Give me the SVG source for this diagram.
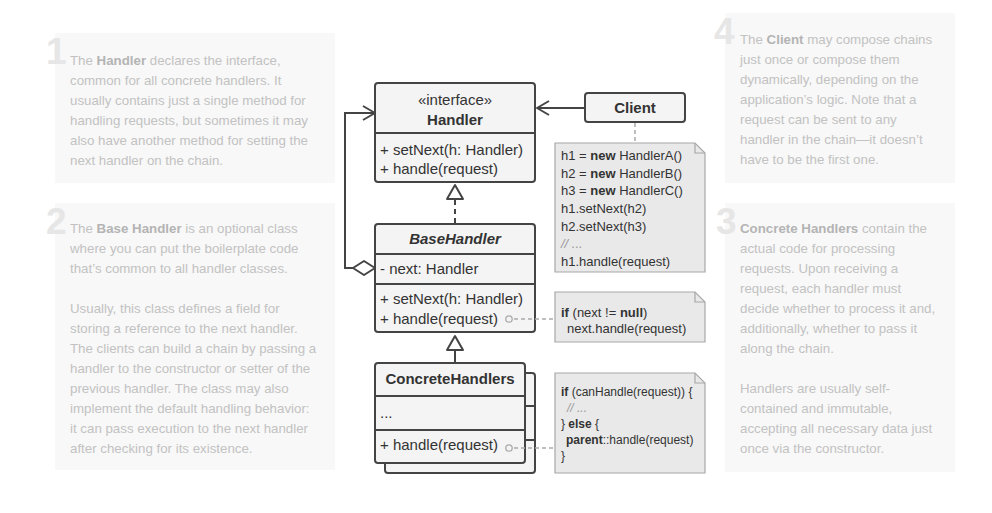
<svg xmlns="http://www.w3.org/2000/svg" width="992" height="513" viewBox="0 0 992 513">
  <style>
    .card { fill: #f8f8f8; }
    .num { font-family: "Liberation Sans", Arial, sans-serif; font-weight: bold; font-size: 37px; fill: #e6e6e6; }
    .desc { font-family: "Liberation Sans", Arial, sans-serif; font-size: 13.3px; fill: #c2c2c2; }
    .desc .b { font-weight: bold; fill: #b4b4b4; }
    .box { fill: #f4f4f4; stroke: #444; stroke-width: 2; }
    .sep { stroke: #444; stroke-width: 2; }
    .uml { font-family: "Liberation Sans", Arial, sans-serif; font-size: 15px; fill: #333; }
    .title { font-weight: bold; text-anchor: middle; }
    .note { fill: #e9e9e9; stroke: #a8a8a8; stroke-width: 1.2; }
    .code { font-family: "Liberation Sans", Arial, sans-serif; font-size: 13px; fill: #333; }
    .code.small { font-size: 12px; }
    .code .k { font-weight: bold; }
    .code .c { fill: #999; font-style: italic; }
    .line { fill: none; stroke: #444; stroke-width: 2; }
    .dash { fill: none; stroke: #aaa; stroke-width: 1.5; stroke-dasharray: 4 3; }
  </style>

  <!-- explanation cards -->
  <g id="card-1">
    <rect class="card" x="55" y="33" width="280" height="150"/>
    <text class="num" x="46" y="64">1</text>
    <text class="desc">
      <tspan x="70" y="65">The <tspan class="b">Handler</tspan> declares the interface,</tspan>
      <tspan x="70" y="85">common for all concrete handlers. It</tspan>
      <tspan x="70" y="105">usually contains just a single method for</tspan>
      <tspan x="70" y="125">handling requests, but sometimes it may</tspan>
      <tspan x="70" y="145">also have another method for setting the</tspan>
      <tspan x="70" y="165">next handler on the chain.</tspan>
    </text>
  </g>
  <g id="card-2">
    <rect class="card" x="55" y="203" width="280" height="267"/>
    <text class="num" x="46" y="234">2</text>
    <text class="desc">
      <tspan x="70" y="233">The <tspan class="b">Base Handler</tspan> is an optional class</tspan>
      <tspan x="70" y="253">where you can put the boilerplate code</tspan>
      <tspan x="70" y="273">that’s common to all handler classes.</tspan>
      <tspan x="70" y="313">Usually, this class defines a field for</tspan>
      <tspan x="70" y="333">storing a reference to the next handler.</tspan>
      <tspan x="70" y="353">The clients can build a chain by passing a</tspan>
      <tspan x="70" y="373">handler to the constructor or setter of the</tspan>
      <tspan x="70" y="393">previous handler. The class may also</tspan>
      <tspan x="70" y="413">implement the default handling behavior:</tspan>
      <tspan x="70" y="433">it can pass execution to the next handler</tspan>
      <tspan x="70" y="453">after checking for its existence.</tspan>
    </text>
  </g>
  <g id="card-4">
    <rect class="card" x="725" y="13" width="230" height="170"/>
    <text class="num" x="714" y="44">4</text>
    <text class="desc">
      <tspan x="740" y="44">The <tspan class="b">Client</tspan> may compose chains</tspan>
      <tspan x="740" y="64">just once or compose them</tspan>
      <tspan x="740" y="84">dynamically, depending on the</tspan>
      <tspan x="740" y="104">application’s logic. Note that a</tspan>
      <tspan x="740" y="124">request can be sent to any</tspan>
      <tspan x="740" y="144">handler in the chain—it doesn’t</tspan>
      <tspan x="740" y="164">have to be the first one.</tspan>
    </text>
  </g>
  <g id="card-3">
    <rect class="card" x="725" y="203" width="230" height="269"/>
    <text class="num" x="716" y="234">3</text>
    <text class="desc">
      <tspan x="740" y="233"><tspan class="b">Concrete Handlers</tspan> contain the</tspan>
      <tspan x="740" y="253">actual code for processing</tspan>
      <tspan x="740" y="273">requests. Upon receiving a</tspan>
      <tspan x="740" y="293">request, each handler must</tspan>
      <tspan x="740" y="313">decide whether to process it and,</tspan>
      <tspan x="740" y="333">additionally, whether to pass it</tspan>
      <tspan x="740" y="353">along the chain.</tspan>
      <tspan x="740" y="393">Handlers are usually self-</tspan>
      <tspan x="740" y="413">contained and immutable,</tspan>
      <tspan x="740" y="433">accepting all necessary data just</tspan>
      <tspan x="740" y="453">once via the constructor.</tspan>
    </text>
  </g>

  <!-- Handler interface -->
  <g id="handler">
    <rect class="box" x="375" y="83" width="160" height="99" rx="3"/>
    <line class="sep" x1="375" y1="133" x2="535" y2="133"/>
    <text class="uml" x="455" y="105" text-anchor="middle">«interface»</text>
    <text class="uml title" x="455" y="125">Handler</text>
    <text class="uml" x="380" y="155">+ setNext(h: Handler)</text>
    <text class="uml" x="380" y="174">+ handle(request)</text>
  </g>

  <!-- BaseHandler -->
  <g id="base-handler">
    <rect class="box" x="375" y="224" width="160" height="108" rx="3"/>
    <line class="sep" x1="375" y1="254" x2="535" y2="254"/>
    <line class="sep" x1="375" y1="284" x2="535" y2="284"/>
    <text class="uml title" x="455" y="244" font-style="italic">BaseHandler</text>
    <text class="uml" x="380" y="274">- next: Handler</text>
    <text class="uml" x="380" y="304">+ setNext(h: Handler)</text>
    <text class="uml" x="380" y="324">+ handle(request)</text>
  </g>

  <!-- ConcreteHandlers (stacked) -->
  <g id="concrete-handlers">
    <rect class="box" x="385" y="373" width="150" height="100" rx="3"/>
    <line class="sep" x1="385" y1="406" x2="535" y2="406"/>
    <line class="sep" x1="385" y1="440" x2="535" y2="440"/>
    <rect class="box" x="375" y="363" width="150" height="100" rx="3"/>
    <line class="sep" x1="375" y1="396" x2="525" y2="396"/>
    <line class="sep" x1="375" y1="430" x2="525" y2="430"/>
    <text class="uml title" x="450" y="384">ConcreteHandlers</text>
    <text class="uml" x="380" y="418">...</text>
    <text class="uml" x="380" y="450">+ handle(request)</text>
  </g>

  <!-- Client -->
  <g id="client">
    <rect class="box" x="585" y="93" width="100" height="29" rx="3"/>
    <text class="uml title" x="635" y="113">Client</text>
  </g>

  <!-- Client note -->
  <g id="note-client">
    <path class="note" d="M555,143 H695 L705,153 V272 H555 Z"/>
    <path d="M695,143 V153 H705" fill="none" stroke="#a8a8a8" stroke-width="1.2"/>
    <text class="code">
      <tspan x="561" y="160">h1 = <tspan class="k">new</tspan> HandlerA()</tspan>
      <tspan x="561" y="178">h2 = <tspan class="k">new</tspan> HandlerB()</tspan>
      <tspan x="561" y="195">h3 = <tspan class="k">new</tspan> HandlerC()</tspan>
      <tspan x="561" y="213">h1.setNext(h2)</tspan>
      <tspan x="561" y="231">h2.setNext(h3)</tspan>
      <tspan x="561" y="248" class="c">// ...</tspan>
      <tspan x="561" y="266">h1.handle(request)</tspan>
    </text>
  </g>

  <!-- BaseHandler.handle note -->
  <g id="note-base">
    <path class="note" d="M555,292 H695 L705,302 V342 H555 Z"/>
    <path d="M695,292 V302 H705" fill="none" stroke="#a8a8a8" stroke-width="1.2"/>
    <text class="code">
      <tspan x="561" y="317"><tspan class="k">if</tspan> (next != <tspan class="k">null</tspan>)</tspan>
      <tspan x="567" y="333">next.handle(request)</tspan>
    </text>
  </g>

  <!-- ConcreteHandlers.handle note -->
  <g id="note-concrete">
    <path class="note" d="M555,373 H695 L705,383 V473 H555 Z"/>
    <path d="M695,373 V383 H705" fill="none" stroke="#a8a8a8" stroke-width="1.2"/>
    <text class="code small">
      <tspan x="561" y="396"><tspan class="k">if</tspan> (canHandle(request)) {</tspan>
      <tspan x="567" y="412" class="c">// ...</tspan>
      <tspan x="561" y="428">} <tspan class="k">else</tspan> {</tspan>
      <tspan x="566" y="444"><tspan class="k">parent</tspan>::handle(request)</tspan>
      <tspan x="561" y="460">}</tspan>
    </text>
  </g>

  <!-- connectors (drawn last so the note anchors sit on top of the class boxes) -->
  <g id="connectors">
    <!-- realization: BaseHandler implements Handler -->
    <line class="line" x1="455" y1="200" x2="455" y2="223" stroke-dasharray="5 4"/>
    <polygon points="455,185 447,199 463,199" fill="#fff" stroke="#444" stroke-width="2" stroke-linejoin="round"/>
    <!-- inheritance: ConcreteHandlers extends BaseHandler -->
    <line class="line" x1="455" y1="351" x2="455" y2="362"/>
    <polygon points="455,336 447,350 463,350" fill="#fff" stroke="#444" stroke-width="2" stroke-linejoin="round"/>
    <!-- aggregation: BaseHandler.next -> Handler -->
    <polyline class="line" points="353,268 345,268 345,113 374,113"/>
    <polygon points="353,268 364,261 375,268 364,275" fill="#fff" stroke="#444" stroke-width="2" stroke-linejoin="round"/>
    <polyline class="line" points="363,106 375,113 363,120" stroke-linejoin="round"/>
    <!-- association: Client -> Handler -->
    <line class="line" x1="585" y1="108" x2="537" y2="108"/>
    <polyline class="line" points="549,101 537,108 549,115" stroke-linejoin="round"/>
    <!-- note anchors -->
    <line class="dash" x1="635" y1="123" x2="635" y2="143"/>
    <circle cx="509" cy="319" r="3.2" fill="#f4f4f4" stroke="#aaa" stroke-width="1.3"/>
    <line class="dash" x1="514" y1="319" x2="555" y2="319"/>
    <circle cx="509" cy="448" r="3.2" fill="#f4f4f4" stroke="#aaa" stroke-width="1.3"/>
    <line class="dash" x1="514" y1="448" x2="555" y2="448"/>
  </g>
</svg>
